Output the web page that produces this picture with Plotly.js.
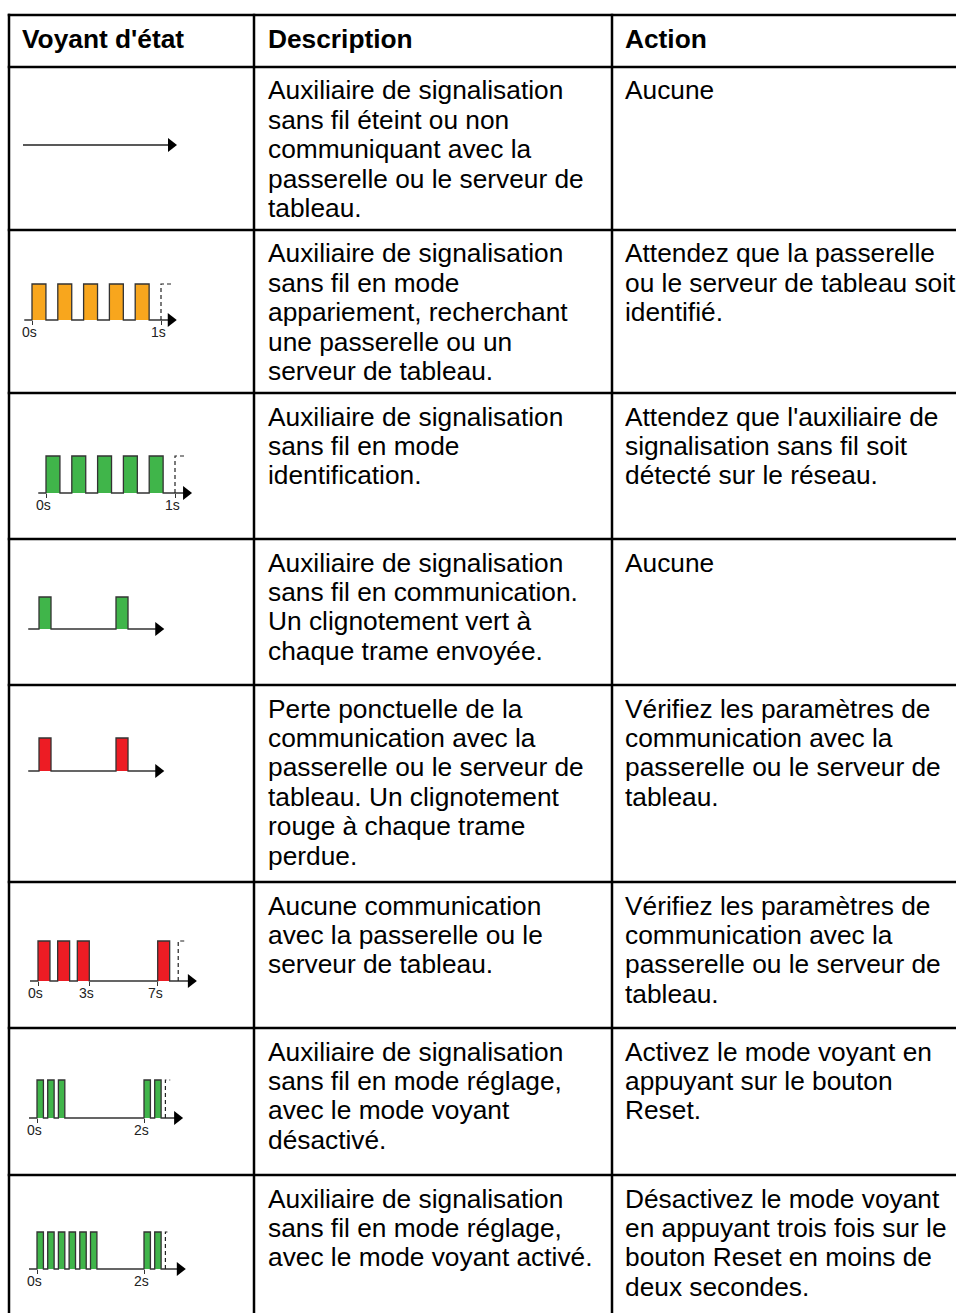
<!DOCTYPE html>
<html>
<head>
<meta charset="utf-8">
<script src="https://cdn.plot.ly/plotly-3.0.1.min.js"></script>
<style>html,body{margin:0;padding:0;background:#fff;}#chart{width:956px;height:1313px;}</style>
</head>
<body>
<div id="chart"></div>
<script>
// ---------- DATA ----------
const headers = ["Voyant d'état", "Description", "Action"];

const descriptions = [
  ["Auxiliaire de signalisation", "sans fil éteint ou non", "communiquant avec la", "passerelle ou le serveur de", "tableau."],
  ["Auxiliaire de signalisation", "sans fil en mode", "appariement, recherchant", "une passerelle ou un", "serveur de tableau."],
  ["Auxiliaire de signalisation", "sans fil en mode", "identification."],
  ["Auxiliaire de signalisation", "sans fil en communication.", "Un clignotement vert à", "chaque trame envoyée."],
  ["Perte ponctuelle de la", "communication avec la", "passerelle ou le serveur de", "tableau. Un clignotement", "rouge à chaque trame", "perdue."],
  ["Aucune communication", "avec la passerelle ou le", "serveur de tableau."],
  ["Auxiliaire de signalisation", "sans fil en mode réglage,", "avec le mode voyant", "désactivé."],
  ["Auxiliaire de signalisation", "sans fil en mode réglage,", "avec le mode voyant activé."]
];

const actions = [
  ["Aucune"],
  ["Attendez que la passerelle", "ou le serveur de tableau soit", "identifié."],
  ["Attendez que l'auxiliaire de", "signalisation sans fil soit", "détecté sur le réseau."],
  ["Aucune"],
  ["Vérifiez les paramètres de", "communication avec la", "passerelle ou le serveur de", "tableau."],
  ["Vérifiez les paramètres de", "communication avec la", "passerelle ou le serveur de", "tableau."],
  ["Activez le mode voyant en", "appuyant sur le bouton", "Reset."],
  ["Désactivez le mode voyant", "en appuyant trois fois sur le", "bouton Reset en moins de", "deux secondes."]
];

// signal diagrams (time in seconds / arbitrary units)
const pulseStarts = [
  [],
  [0, 0.2, 0.4, 0.6, 0.8],
  [0, 0.2, 0.4, 0.6, 0.8],
  [0, 1],
  [0, 1],
  [0, 1.15, 2.3, 7.0],
  [0, 0.2, 0.4, 2.0, 2.2],
  [0, 0.2, 0.4, 0.6, 0.8, 1.0, 2.0, 2.2]
];
const pulseWidths  = [0, 0.108, 0.108, 0.156, 0.156, 0.70, 0.12, 0.12];
const signalStart  = [0, -0.06, -0.06, -0.14, -0.14, -0.47, -0.15, -0.15];
const signalEnd    = [1, 1.13, 1.14, 1.64, 1.64, 9.35, 2.75, 2.8];
const dashedAt     = [null, 1, 1, null, null, 8.2, 2.4, 2.4];
const dashedTopEnd = [null, 1.085, 1.078, null, null, 8.65, 2.49, 2.49];
const tickVals     = [[], [0, 1], [0, 1], [], [], [0, 3, 7], [0, 2], [0, 2]];
const tickLabels   = [[], ["0s", "1s"], ["0s", "1s"], [], [], ["0s", "3s", "7s"], ["0s", "2s"], ["0s", "2s"]];
const pulseColors  = ["#000000", "#F8A61D", "#40B54A", "#40B54A", "#ED1C24", "#ED1C24", "#40B54A", "#40B54A"];

// ---------- LAYOUT / PLACEMENT ----------
const W = 956, H = 1313;
const FONT = "Liberation Sans, Arial, Helvetica, sans-serif";
const hLines = [15, 67, 230, 393, 539, 685, 882, 1028, 1175];
const vLines = [9, 254, 612];
const colTextX = [22, 268, 625];
const lineGap = 29.4;
const firstLineOffset = 23.5;

const diagramOriginPx = [23, 32, 46, 39, 39, 38, 37, 37];
const pxPerUnit       = [155, 129, 129, 77, 77, 17.1, 53.5, 53.5];
const baselinePx      = [145, 320, 493, 629, 771, 981, 1118, 1269];
const pulseHeightPx   = [30, 36, 37, 32, 33, 40, 38, 37];

const traces = [];
const layout = {
  width: W, height: H,
  margin: {l: 0, r: 0, t: 0, b: 0},
  paper_bgcolor: "#ffffff",
  plot_bgcolor: "rgba(0,0,0,0)",
  showlegend: false,
  hovermode: false,
  shapes: [],
  annotations: []
};

// table grid
hLines.forEach(y => {
  layout.shapes.push({type: "line", xref: "paper", yref: "paper",
    x0: (vLines[0] - 1.25) / W, x1: 1, y0: 1 - y / H, y1: 1 - y / H,
    line: {color: "#000", width: 2.5}});
});
vLines.forEach(x => {
  layout.shapes.push({type: "line", xref: "paper", yref: "paper",
    x0: x / W, x1: x / W, y0: 1 - (hLines[0] - 1.25) / H, y1: 0,
    line: {color: "#000", width: 2.5}});
});

function addText(text, px, py, bold) {
  layout.annotations.push({
    xref: "paper", yref: "paper", x: px / W, y: 1 - py / H,
    xanchor: "left", yanchor: "middle", showarrow: false,
    text: bold ? "<b>" + text + "</b>" : text,
    font: {family: FONT, size: 26.3, color: "#000"}
  });
}

// headers
headers.forEach((t, c) => addText(t, colTextX[c] - 2, hLines[0] + 24, true));

// body text
for (let r = 0; r < descriptions.length; r++) {
  const top = hLines[r + 1];
  descriptions[r].forEach((t, i) => addText(t, colTextX[1] - 2, top + firstLineOffset + i * lineGap, false));
  actions[r].forEach((t, i) => addText(t, colTextX[2] - 2, top + firstLineOffset + i * lineGap, false));
}

// signal diagrams
for (let k = 0; k < pulseStarts.length; k++) {
  const ax = k === 0 ? "" : String(k + 1);
  const xa = "x" + ax, ya = "y" + ax;
  const x0 = diagramOriginPx[k], sx = pxPerUnit[k], yb = baselinePx[k], h = pulseHeightPx[k];
  const dpx = [12, 245];
  const ypx = [yb - h - 16, yb + 14];
  const hasTicks = tickVals[k].length > 0;

  layout["xaxis" + ax] = {
    domain: [dpx[0] / W, dpx[1] / W],
    range: [(dpx[0] - x0) / sx, (dpx[1] - x0) / sx],
    anchor: "free", position: 1 - yb / H,
    showgrid: false, zeroline: false, showline: false,
    ticks: hasTicks ? "outside" : "", ticklen: 4, tickwidth: 1, tickcolor: "#333",
    tickmode: "array", tickvals: tickVals[k], ticktext: tickLabels[k],
    showticklabels: false,
    fixedrange: true
  };
  layout["yaxis" + ax] = {
    domain: [1 - ypx[1] / H, 1 - ypx[0] / H],
    range: [-(ypx[1] - yb) / h, (yb - ypx[0]) / h],
    anchor: xa, visible: false, showgrid: false, zeroline: false, fixedrange: true
  };

  // tick labels placed on the subplot's own scale
  tickVals[k].forEach((v, i) => {
    layout.annotations.push({
      xref: xa, yref: ya, x: v, y: 0, xanchor: "center", yanchor: "middle",
      xshift: -2.5, yshift: -12, showarrow: false, text: tickLabels[k][i],
      font: {family: FONT, size: 14, color: "#222"}
    });
  });

  // waveform
  const xs = [signalStart[k]], ys = [0];
  pulseStarts[k].forEach(s => {
    const w = pulseWidths[k];
    xs.push(s, s, s + w, s + w);
    ys.push(0, 1, 1, 0);
  });
  xs.push(signalEnd[k] - 6 / sx); ys.push(0);
  traces.push({
    x: xs, y: ys, xaxis: xa, yaxis: ya, mode: "lines",
    line: {color: k === 0 ? "#222" : "#333", width: 1.3},
    fill: pulseStarts[k].length ? "tozeroy" : "none",
    fillcolor: pulseColors[k], hoverinfo: "skip"
  });

  // dashed marker
  if (dashedAt[k] !== null) {
    traces.push({
      x: [dashedAt[k], dashedAt[k], dashedTopEnd[k]], y: [0, 1, 1],
      xaxis: xa, yaxis: ya, mode: "lines",
      line: {color: "#222", width: 1.2, dash: "4px,3px"}, hoverinfo: "skip"
    });
  }

  // arrow head
  traces.push({
    x: [signalEnd[k] - 7 / sx], y: [0], xaxis: xa, yaxis: ya, mode: "markers",
    marker: {symbol: "triangle-right", size: 12, color: "#000", line: {width: 0}},
    cliponaxis: false, hoverinfo: "skip"
  });
}

Plotly.newPlot("chart", traces, layout, {staticPlot: true, displayModeBar: false});
</script>
</body>
</html>
